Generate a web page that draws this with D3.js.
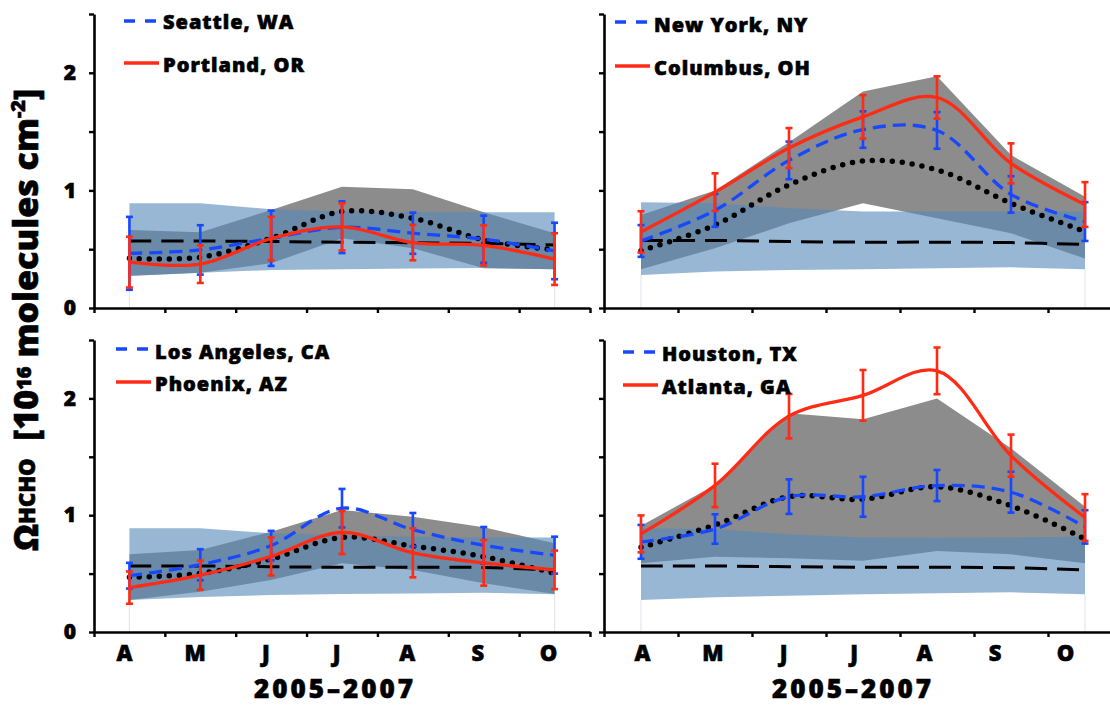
<!DOCTYPE html>
<html>
<head>
<meta charset="utf-8">
<script src="https://cdn.jsdelivr.net/npm/d3@7"></script>
<style>
  body { margin: 0; background: #fff; }
  svg { display: block; font-family: "Open Sans", Lato, sans-serif; font-weight: 800; }
</style>
</head>
<body>
<svg width="1110" height="706"></svg>
<script>
// ---- data ----
const months = ["A", "M", "J", "J", "A", "S", "O"];
const yTicks = [0, 0.5, 1, 1.5, 2, 2.5];
const yLabelled = [0, 1, 2];
const period = "2005–2007";

// top left
const seattle = [0.465, 0.494, 0.593, 0.687, 0.636, 0.585, 0.485];
const seattleErr = [0.31, 0.21, 0.235, 0.22, 0.175, 0.2, 0.24];
const portland = [0.39, 0.373, 0.59, 0.69, 0.556, 0.532, 0.416];
const portlandErr = [0.216, 0.16, 0.185, 0.2, 0.15, 0.17, 0.22];
const dottedTL = [0.423, 0.431, 0.593, 0.82, 0.763, 0.579, 0.494];
const dashedTL = [0.57, 0.57, 0.565, 0.56, 0.555, 0.55, 0.535];
const blueLoTL = [0.272, 0.30, 0.323, 0.33, 0.335, 0.34, 0.33];
const blueHiTL = [0.89, 0.89, 0.84, 0.82, 0.815, 0.815, 0.815];
const grayLoTL = [0.275, 0.30, 0.38, 0.593, 0.508, 0.338, 0.33];
const grayHiTL = [0.664, 0.644, 0.834, 1.03, 1.01, 0.814, 0.636];

// top right
const newYork = [0.57, 0.83, 1.255, 1.517, 1.51, 0.966, 0.735];
const newYorkErr = [0.135, 0.14, 0.16, 0.155, 0.156, 0.155, 0.165];
const columbus = [0.647, 0.985, 1.36, 1.625, 1.79, 1.23, 0.88];
const columbusErr = [0.176, 0.16, 0.17, 0.185, 0.18, 0.17, 0.19];
const dottedTR = [0.487, 0.706, 1.047, 1.25, 1.174, 0.89, 0.65];
const dashedTR = [0.574, 0.574, 0.565, 0.56, 0.56, 0.556, 0.54];
const blueLoTR = [0.28, 0.31, 0.323, 0.33, 0.338, 0.346, 0.33];
const blueHiTR = [0.90, 0.89, 0.85, 0.82, 0.82, 0.82, 0.82];
const grayLoTR = [0.33, 0.508, 0.72, 0.89, 0.763, 0.636, 0.42];
const grayHiTR = [0.79, 1.0, 1.41, 1.84, 1.97, 1.30, 0.947];

// bottom left
const losAngeles = [0.482, 0.576, 0.74, 1.06, 0.876, 0.742, 0.658];
const losAngelesErr = [0.11, 0.133, 0.126, 0.165, 0.143, 0.157, 0.158];
const phoenix = [0.38, 0.486, 0.647, 0.852, 0.678, 0.592, 0.532];
const phoenixErr = [0.138, 0.125, 0.163, 0.184, 0.21, 0.195, 0.165];
const dottedBL = [0.468, 0.502, 0.625, 0.81, 0.736, 0.645, 0.502];
const dashedBL = [0.565, 0.565, 0.559, 0.554, 0.554, 0.552, 0.531];
const blueLoBL = [0.274, 0.30, 0.317, 0.325, 0.33, 0.337, 0.323];
const blueHiBL = [0.888, 0.888, 0.845, 0.83, 0.816, 0.81, 0.81];
const grayLoBL = [0.274, 0.345, 0.445, 0.588, 0.531, 0.417, 0.325];
const grayHiBL = [0.665, 0.702, 0.859, 1.045, 0.987, 0.896, 0.759];

// bottom right
const houston = [0.772, 0.882, 1.159, 1.158, 1.254, 1.197, 0.90];
const houstonErr = [0.145, 0.126, 0.148, 0.171, 0.133, 0.175, 0.143];
const atlanta = [0.84, 1.255, 1.848, 2.026, 2.236, 1.51, 0.98];
const atlantaErr = [0.158, 0.186, 0.19, 0.217, 0.2, 0.18, 0.2];
const dottedBR = [0.725, 0.916, 1.159, 1.136, 1.244, 1.081, 0.796];
const dashedBR = [0.565, 0.565, 0.559, 0.554, 0.554, 0.55, 0.531];
const blueLoBR = [0.274, 0.297, 0.311, 0.323, 0.331, 0.34, 0.323];
const blueHiBR = [0.888, 0.882, 0.836, 0.81, 0.807, 0.81, 0.816];
const grayLoBR = [0.588, 0.645, 0.631, 0.61, 0.694, 0.665, 0.588];
const grayHiBR = [0.91, 1.258, 1.872, 1.821, 2.0, 1.573, 1.073];

// ---- layout ----
const BLUE = "#1747ff", RED = "#ff2b14";
const FONT = "'Open Sans', Lato, sans-serif";

const panels = [
  { left: 94, right: 590, bottom: 308, top: 14, yLabels: true, months: null,
    names: ["Seattle, WA", "Portland, OR"], blue: seattle, blueErr: seattleErr, red: portland, redErr: portlandErr,
    dotted: dottedTL, dashed: dashedTL, blueLo: blueLoTL, blueHi: blueHiTL, grayLo: grayLoTL, grayHi: grayHiTL,
    legend: { x: 124, y: [21, 63], base: [29, 72] } },
  { left: 604, right: 1122, bottom: 308, top: 14, yLabels: false, months: null,
    names: ["New York, NY", "Columbus, OH"], blue: newYork, blueErr: newYorkErr, red: columbus, redErr: columbusErr,
    dotted: dottedTR, dashed: dashedTR, blueLo: blueLoTR, blueHi: blueHiTR, grayLo: grayLoTR, grayHi: grayHiTR,
    legend: { x: 615, y: [22, 66], base: [32, 75] } },
  { left: 94, right: 590, bottom: 632, top: 340, yLabels: true, months: [124, 548], titleX: 335,
    names: ["Los Angeles, CA", "Phoenix, AZ"], blue: losAngeles, blueErr: losAngelesErr, red: phoenix, redErr: phoenixErr,
    dotted: dottedBL, dashed: dashedBL, blueLo: blueLoBL, blueHi: blueHiBL, grayLo: grayLoBL, grayHi: grayHiBL,
    legend: { x: 116, y: [349, 382], base: [359, 391] } },
  { left: 604, right: 1122, bottom: 632, top: 340, yLabels: false, months: [642, 1065], titleX: 853,
    names: ["Houston, TX", "Atlanta, GA"], blue: houston, blueErr: houstonErr, red: atlanta, redErr: atlantaErr,
    dotted: dottedBR, dashed: dashedBR, blueLo: blueLoBR, blueHi: blueHiBR, grayLo: grayLoBR, grayHi: grayHiBR,
    legend: { x: 623, y: [352, 385], base: [361, 394] } }
];

const svg = d3.select("svg");

function errorBars(g, cx, y, vals, errs, color) {
  const bars = g.append("g").selectAll("g").data(vals).join("g");
  bars.append("line")
    .attr("x1", (d, i) => cx(i)).attr("x2", (d, i) => cx(i))
    .attr("y1", (d, i) => y(d + errs[i])).attr("y2", (d, i) => y(d - errs[i]));
  [1, -1].forEach(s => {
    bars.append("line")
      .attr("x1", (d, i) => cx(i) - 3.5).attr("x2", (d, i) => cx(i) + 3.5)
      .attr("y1", (d, i) => y(d + s * errs[i])).attr("y2", (d, i) => y(d + s * errs[i]));
  });
  bars.selectAll("line").attr("stroke", color).attr("stroke-width", 2.6);
}

function heavy(sel, size) {
  return sel.attr("font-family", FONT).attr("font-weight", 800).attr("font-size", size)
    .attr("fill", "#000").attr("stroke", "#000").attr("stroke-width", 0.6);
}

panels.forEach(p => {
  const x = d3.scaleBand().domain(d3.range(months.length)).range([p.left, p.right]);
  const cx = i => x(i) + x.bandwidth() / 2;
  const y = d3.scaleLinear().domain([0, 2.5]).range([p.bottom, p.top]);
  const g = svg.append("g");

  // faint drop lines at both ends
  [0, months.length - 1].forEach(i => {
    g.append("line").attr("x1", cx(i)).attr("x2", cx(i))
      .attr("y1", y(p.blueLo[i])).attr("y2", y(0))
      .attr("stroke", "#e2e7ee").attr("stroke-width", 1.2);
  });

  const band = (lo, hi) => d3.area()
    .x((d, i) => cx(i)).y0((d, i) => y(lo[i])).y1((d, i) => y(hi[i]))(lo);
  g.append("path").attr("d", band(p.grayLo, p.grayHi)).attr("fill", "#8c8c8c");
  g.append("path").attr("d", band(p.blueLo, p.blueHi)).attr("fill", "rgb(86,137,184)").attr("fill-opacity", 0.61);

  const line = d3.line().x((d, i) => cx(i)).y(d => y(d)).curve(d3.curveCatmullRom.alpha(0.5));

  g.append("path").attr("d", line(p.dashed)).attr("fill", "none")
    .attr("stroke", "#000").attr("stroke-width", 3).attr("stroke-dasharray", "22 10");
  g.append("path").attr("d", line(p.dotted)).attr("fill", "none")
    .attr("stroke", "#000").attr("stroke-width", 5.5).attr("stroke-linecap", "round")
    .attr("stroke-dasharray", "0 10");

  errorBars(g, cx, y, p.blue, p.blueErr, BLUE);
  g.append("path").attr("d", line(p.blue)).attr("fill", "none")
    .attr("stroke", BLUE).attr("stroke-width", 3.3).attr("stroke-dasharray", "13 7");

  errorBars(g, cx, y, p.red, p.redErr, RED);
  g.append("path").attr("d", line(p.red)).attr("fill", "none")
    .attr("stroke", RED).attr("stroke-width", 3.3);

  // axes
  const yAxis = d3.axisLeft(y).tickValues(yTicks).tickSize(5).tickSizeOuter(0).tickPadding(13)
    .tickFormat(d => p.yLabels && yLabelled.includes(d) ? d3.format("d")(d) : "");
  const ya = g.append("g").attr("transform", `translate(${p.left},0)`).call(yAxis);

  const xt = d3.scaleLinear().domain([0, months.length]).range([p.left, p.right]);
  const xa = g.append("g").attr("transform", `translate(0,${p.bottom})`)
    .call(d3.axisBottom(xt).tickValues(d3.range(months.length + 1)).tickSize(5).tickSizeOuter(0).tickFormat(""));

  [ya, xa].forEach(a => {
    a.select(".domain").attr("stroke", "#000").attr("stroke-width", 2.6);
    a.selectAll(".tick line").attr("stroke", "#000").attr("stroke-width", 2.4);
    heavy(a.selectAll("text"), 21);
  });

  if (p.months) {
    const mx = d3.scalePoint().domain(d3.range(months.length)).range(p.months);
    const ma = g.append("g").attr("transform", `translate(0,${p.bottom})`)
      .call(d3.axisBottom(mx).tickSize(0).tickPadding(13).tickFormat(i => months[i]));
    ma.select(".domain").remove();
    heavy(ma.selectAll("text"), 22);
    heavy(g.append("text").attr("x", p.titleX).attr("y", 698).attr("text-anchor", "middle"), 26)
      .attr("letter-spacing", 3).text(period);
  }

  // legend
  const lg = p.legend;
  g.append("line").attr("x1", lg.x).attr("x2", lg.x + 32).attr("y1", lg.y[0]).attr("y2", lg.y[0])
    .attr("stroke", BLUE).attr("stroke-width", 3.3).attr("stroke-dasharray", "11 10");
  g.append("line").attr("x1", lg.x).attr("x2", lg.x + 35).attr("y1", lg.y[1]).attr("y2", lg.y[1])
    .attr("stroke", RED).attr("stroke-width", 3.3);
  p.names.forEach((n, k) => {
    heavy(g.append("text").attr("x", lg.x + 39).attr("y", lg.base[k]), 20)
      .attr("letter-spacing", 1).text(n);
  });
});

// y axis title
const yt = heavy(svg.append("text").attr("transform", "translate(38,551) rotate(-90)"), 34);
yt.append("tspan").text("Ω");
yt.append("tspan").attr("font-size", 22).attr("dy", -3).text("HCHO");
yt.append("tspan").attr("dy", 3).attr("xml:space", "preserve").text("  [10");
yt.append("tspan").attr("font-size", 20).attr("dy", -7).text("16");
yt.append("tspan").attr("dy", 7).text(" molecules cm");
yt.append("tspan").attr("font-size", 20).attr("dy", -13).text("-2");
yt.append("tspan").attr("dy", 13).text("]");
</script>
</body>
</html>
